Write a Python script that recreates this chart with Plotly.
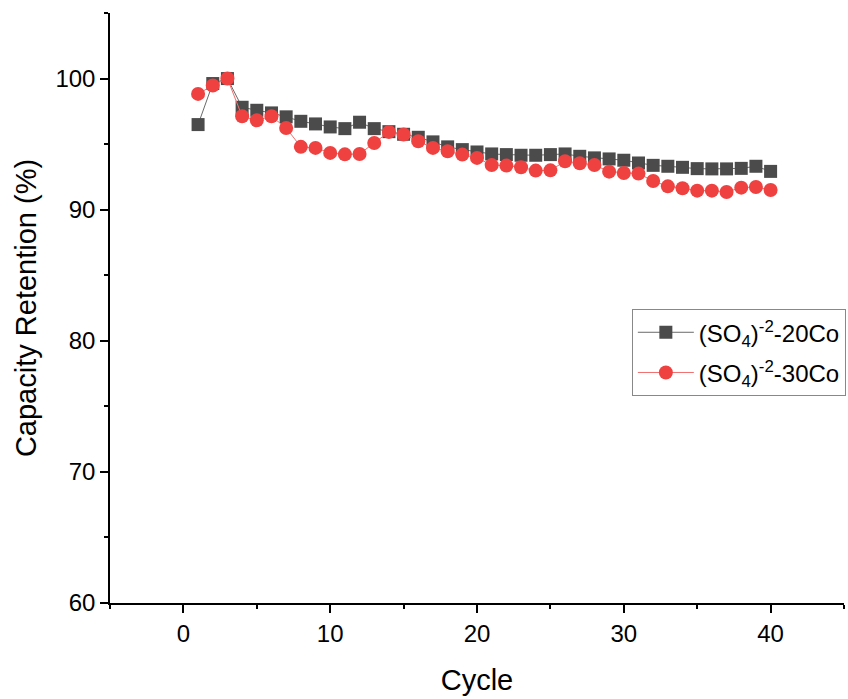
import plotly.graph_objects as go

# Cycle numbers and capacity retention (%) for the two samples
cycles = list(range(1, 41))

retention_20co = [
    96.49, 99.62, 100.0, 97.81, 97.58, 97.38, 97.08, 96.74, 96.54, 96.31,
    96.18, 96.67, 96.18, 95.95, 95.75, 95.52, 95.17, 94.79, 94.58, 94.40,
    94.25, 94.20, 94.15, 94.15, 94.20, 94.25, 94.07, 93.95, 93.87, 93.77,
    93.56, 93.38, 93.31, 93.23, 93.13, 93.11, 93.11, 93.15, 93.31, 92.92,
]

retention_30co = [
    98.83, 99.47, 100.0, 97.12, 96.82, 97.12, 96.23, 94.79, 94.71, 94.33,
    94.22, 94.25, 95.09, 95.93, 95.73, 95.22, 94.71, 94.45, 94.20, 93.95,
    93.40, 93.36, 93.23, 92.98, 93.00, 93.69, 93.54, 93.41, 92.90, 92.80,
    92.75, 92.19, 91.78, 91.63, 91.45, 91.45, 91.35, 91.68, 91.73, 91.50,
]

series_names = ["(SO<sub>4</sub>)<sup>-2</sup>-20Co", "(SO<sub>4</sub>)<sup>-2</sup>-30Co"]

FONT = "Liberation Sans, Arial, sans-serif"

fig = go.Figure()

fig.add_trace(go.Scatter(
    x=cycles, y=retention_20co, name=series_names[0], legendgroup="g20",
    mode="lines+markers",
    line=dict(color="#6a6a6a", width=1),
    marker=dict(symbol="square", size=13, color="#4b4b4b", line=dict(width=0)),
))

fig.add_trace(go.Scatter(
    x=cycles, y=retention_30co, name=series_names[1], legendgroup="g30",
    mode="lines+markers",
    line=dict(color="#f07070", width=1),
    marker=dict(symbol="circle", size=14, color="#f04141", line=dict(width=0)),
))

axis_common = dict(
    showline=True, linecolor="black", linewidth=1.5,
    ticks="outside", ticklen=8, tickwidth=1.5, tickcolor="black",
    showgrid=False, zeroline=False, mirror=False,
    tickfont=dict(family=FONT, size=24, color="black"),
    minor=dict(ticks="outside", ticklen=4, tickwidth=1.5, tickcolor="black", dtick=5, showgrid=False),
)

fig.update_xaxes(
    range=[-5, 45], dtick=10, tick0=0,
    title=dict(text="Cycle", font=dict(family=FONT, size=29, color="black"), standoff=24),
    **axis_common,
)
fig.update_yaxes(
    range=[60, 105], dtick=10, tick0=60,
    title=dict(text="Capacity Retention (%)", font=dict(family=FONT, size=29, color="black"), standoff=10),
    **axis_common,
)

fig.update_layout(
    width=848, height=699,
    margin=dict(l=110, r=3, t=13, b=96),
    paper_bgcolor="white", plot_bgcolor="white",
    showlegend=True,
    legend=dict(
        x=0.71, y=0.498, xanchor="left", yanchor="top",
        bgcolor="white", bordercolor="#888888", borderwidth=1,
        font=dict(family=FONT, size=24, color="black"),
        itemwidth=56, traceorder="grouped", tracegroupgap=6,
    ),
)

fig.write_html("out.html")
